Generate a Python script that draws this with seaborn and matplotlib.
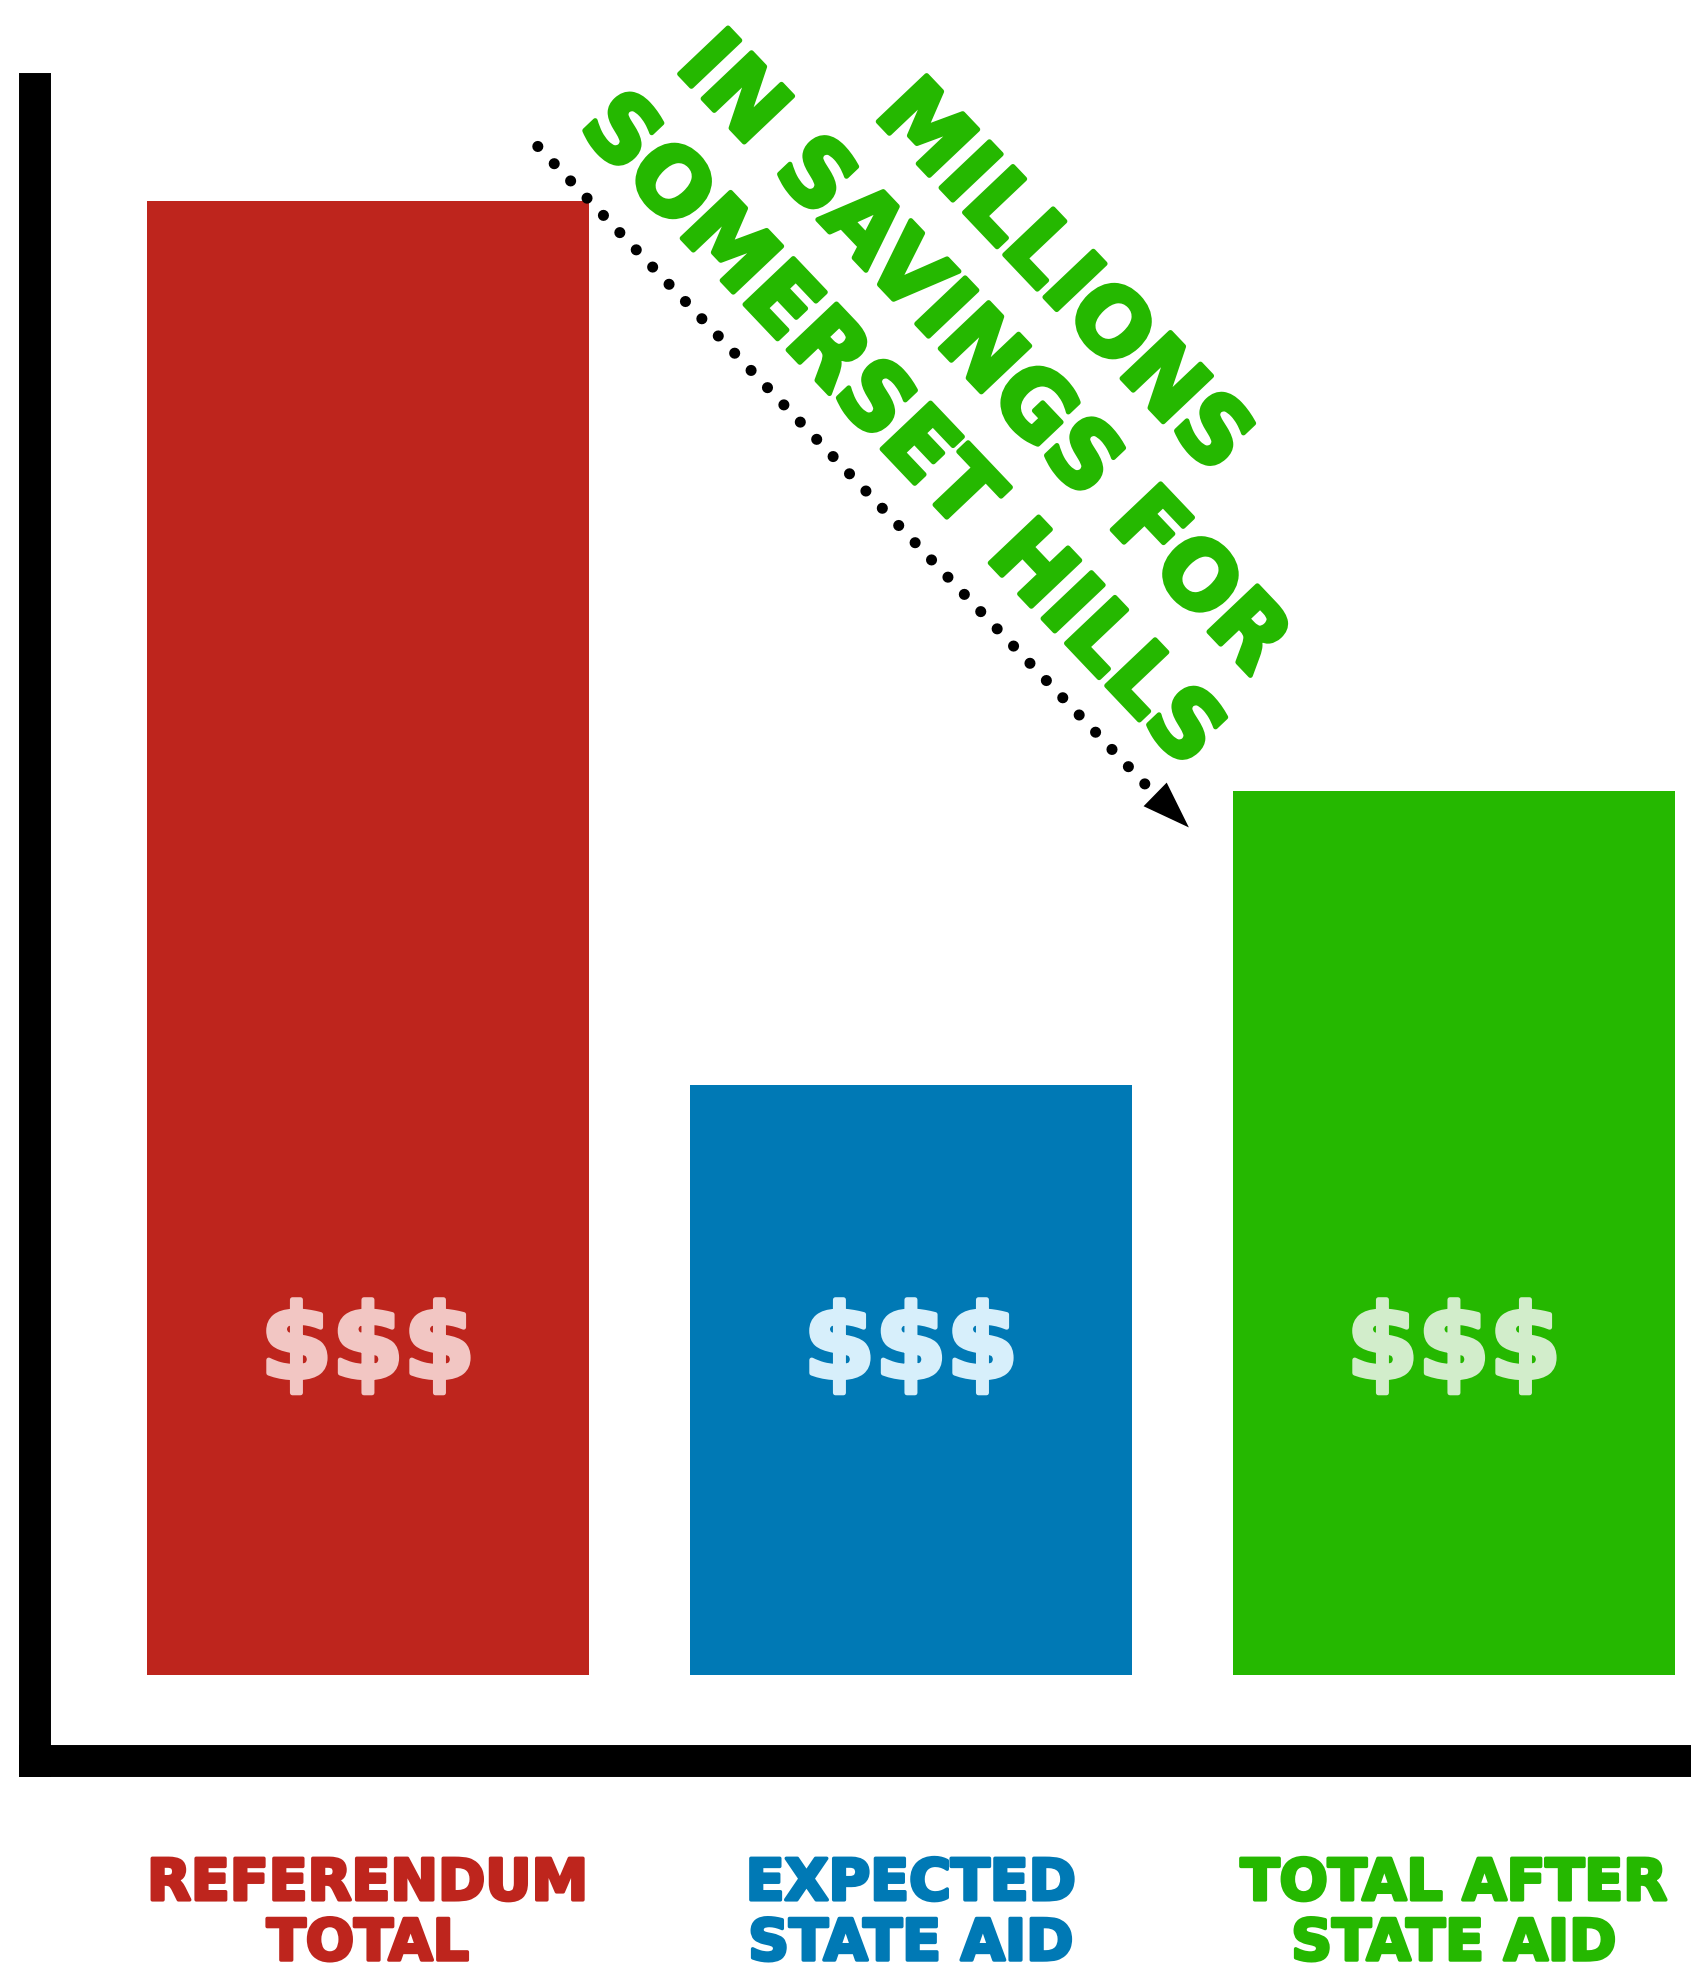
import matplotlib
matplotlib.use('Agg')
import matplotlib.pyplot as plt
import matplotlib.patheffects as pe
import seaborn as sns
import pandas as pd

# ---- data ----
categories = ["REFERENDUM\nTOTAL", "EXPECTED\nSTATE AID", "TOTAL AFTER\nSTATE AID"]
values = [100, 40, 60]
bar_colors = ["#BE251D", "#0079B5", "#25B800"]
value_labels = ["$$$", "$$$", "$$$"]
value_label_colors = ["#F2C6C3", "#D7EFFB", "#D2EDCB"]
callout_text = "MILLIONS\nIN SAVINGS FOR\nSOMERSET HILLS"

sns.set_style('white')
plt.rcParams['font.family'] = ['DejaVu Sans']

W, H = 1691, 1966
fig = plt.figure(figsize=(W / 100, H / 100), dpi=100)
ax = fig.add_axes([35 / W, (H - 1761) / H, 1 - 35 / W, (1761 - 89) / H])

df = pd.DataFrame({'category': categories, 'value': values})
sns.barplot(data=df, x='category', y='value', hue='category', palette=bar_colors,
            width=0.814, saturation=1, legend=False, linewidth=0, ax=ax)

px_per_unit = 14.74
ymin = -86 / px_per_unit
ax.set_ylim(ymin, ymin + (1761 - 89) / px_per_unit)
xmin = -0.613
ax.set_xlim(xmin, xmin + (W - 35) / 543)

for s in ['top', 'right']:
    ax.spines[s].set_visible(False)
for s in ['left', 'bottom']:
    ax.spines[s].set_linewidth(23)
    ax.spines[s].set_color('black')
    ax.spines[s].set_capstyle('projecting')

ax.set_yticks([])
ax.set_xlabel('')
ax.set_ylabel('')
ax.set_xticks(range(len(categories)))
ax.set_xticklabels(categories, fontsize=41, fontweight='bold', linespacing=1.12)
ax.tick_params(axis='x', length=0, pad=69)
for lbl, c in zip(ax.get_xticklabels(), bar_colors):
    lbl.set_color(c)
    lbl.set_path_effects([pe.withStroke(linewidth=2.5, foreground=c)])

for i, (t, c) in enumerate(zip(value_labels, value_label_colors)):
    ax.text(i, 22.1, t, ha='center', va='center', fontsize=74, fontweight='bold', color=c,
            path_effects=[pe.withStroke(linewidth=3.5, foreground=c)])

# dotted arrow
ax.plot([0.313, 1.440], [103.7, 60.1], color='black', linewidth=8,
        linestyle=(0, (0.001, 2.14)), dash_capstyle='round', solid_capstyle='round')
ax.annotate('', xy=(1.512, 57.5), xytext=(1.451, 59.7),
            arrowprops=dict(arrowstyle='-|>,head_length=1.0,head_width=0.35',
                            mutation_scale=34, color='black', lw=0,
                            shrinkA=0, shrinkB=0))

ax.text(1.13, 89.6, callout_text, rotation=-46.5, rotation_mode='anchor',
        ha='center', va='center', multialignment='center', fontsize=66,
        fontweight='bold', color="#25B800", linespacing=1.3,
        path_effects=[pe.withStroke(linewidth=3.5, foreground="#25B800")])

fig.savefig('out.png', dpi=100)
